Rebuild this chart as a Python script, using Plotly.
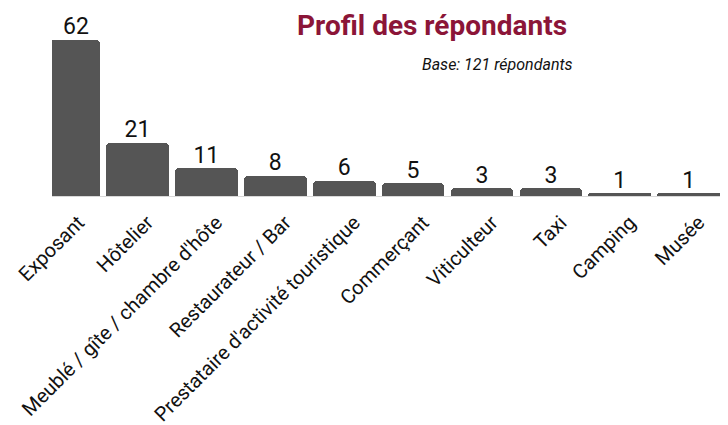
import plotly.graph_objects as go

categories = ["Exposant", "Hôtelier", "Meublé / gîte / chambre d'hôte", "Restaurateur / Bar",
              "Prestataire d'activité touristique", "Commerçant", "Viticulteur", "Taxi",
              "Camping", "Musée"]
values = [62, 21, 11, 8, 6, 5, 3, 3, 1, 1]
title_text = "Profil des répondants"
subtitle_text = "Base: 121 répondants"

BAR_COLOR = "#555555"
TITLE_COLOR = "#8B1538"
FONT = "Roboto"
BAR_W = 0.91
X_RANGE = [-0.24, 9.57]
Y_RANGE = [0, 71.8]

# page has an 8px default body margin: compensate
OFF = 8
W, H = 728 - OFF, 425 - OFF

xs = list(range(len(categories)))
# label centered on visible part of each bar
label_x = []
for i in xs:
    lo = max(i - BAR_W / 2, X_RANGE[0])
    hi = min(i + BAR_W / 2, X_RANGE[1])
    label_x.append((lo + hi) / 2)

fig = go.Figure()
fig.add_trace(go.Bar(
    x=xs, y=values, width=BAR_W,
    marker=dict(color=BAR_COLOR, cornerradius=4, line=dict(width=0)),
    hoverinfo="x+y",
))
fig.add_trace(go.Scatter(
    x=label_x, y=values, mode="text", text=[str(v) for v in values],
    textposition="top center",
    textfont=dict(family=FONT, size=23, color="#111111"),
    cliponaxis=False, hoverinfo="skip",
))

ML, MR, MT, MB = 52 - OFF, 0, 15 - OFF, 229
pw = W - ML - MR
ph = H - MT - MB

def px_x(x):
    return (x - OFF - ML) / pw

def px_y(y):
    return (H - MB - (y - OFF)) / ph

fig.update_layout(
    width=W, height=H,
    margin=dict(l=ML, r=MR, t=MT, b=MB, autoexpand=False),
    paper_bgcolor="white", plot_bgcolor="white",
    showlegend=False,
    bargap=0,
    font=dict(family=FONT, color="#111111"),
    xaxis=dict(
        range=X_RANGE, tickmode="array", tickvals=xs, ticktext=categories,
        tickangle=-45, tickfont=dict(family=FONT, size=20, color="#111111"),
        showgrid=False, zeroline=False, showline=True, linecolor="#d9d9d9", linewidth=1,
        ticks="", ticklabelstandoff=6, ticklabelshift=10, automargin=False,
    ),
    yaxis=dict(range=Y_RANGE, visible=False, showgrid=False, zeroline=False, automargin=False),
    annotations=[
        dict(text=f"<b>{title_text}</b>", xref="paper", yref="paper",
             x=px_x(432), y=px_y(OFF), xanchor="center", yanchor="top",
             showarrow=False, borderpad=0,
             font=dict(family=FONT, size=28, color=TITLE_COLOR)),
        dict(text=f"<i>{subtitle_text}</i>", xref="paper", yref="paper",
             x=px_x(575), y=px_y(65), xanchor="right", yanchor="middle",
             showarrow=False,
             font=dict(family=FONT, size=16, color="#111111")),
    ],
)

fig.write_html("out.html")
